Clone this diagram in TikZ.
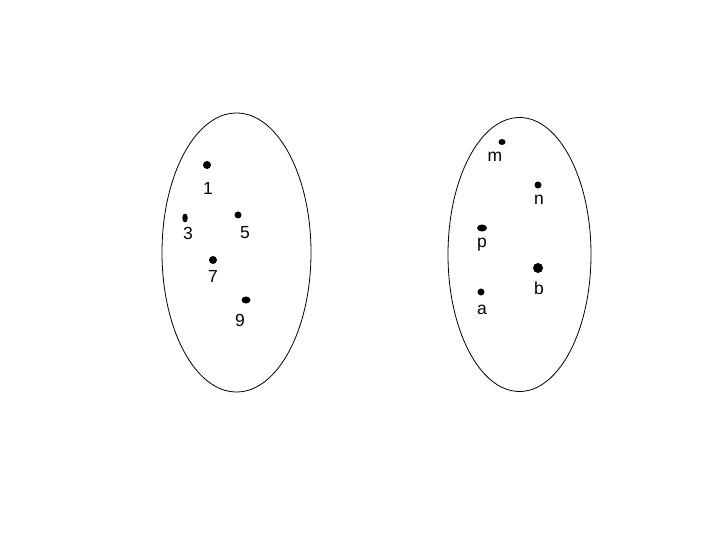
\documentclass[tikz,border=0pt]{standalone}
\usepackage{fontspec}
\setmainfont{Liberation Sans}
\usetikzlibrary{shapes.geometric}

\begin{document}
\begin{tikzpicture}[x=1pt, y=-1pt, every node/.style={font=\fontsize{17.5}{21}\selectfont},
	dot/.style={ellipse, fill=black, inner sep=0pt, minimum width=8pt, minimum height=8pt}]
	\useasboundingbox (0,0) rectangle (720,540);
	% left set
	\draw[line width=0.8pt] (236.5,252.5) ellipse (74.5 and 139.5);
	\node[dot] (d1) at (207,165) {};
	\node[dot, minimum width=5.5pt, minimum height=9pt] (d3) at (185,218) {};
	\node[dot, minimum width=7pt, minimum height=7pt] (d5) at (238,215) {};
	\node[dot] (d7) at (213,260) {};
	\node[dot, minimum width=9pt, minimum height=7pt] (d9) at (246,300) {};
	\node (l1) at (208,188) {1};
	\node (l3) at (188,233) {3};
	\node (l5) at (245,233) {5};
	\node (l7) at (213,276) {7};
	\node (l9) at (240,320) {9};
	% right set
	\draw[line width=0.8pt] (519.5,254.5) ellipse (71.5 and 137);
	\node[dot, minimum width=7pt, minimum height=6pt] (dm) at (502,142) {};
	\node[dot, minimum width=7pt, minimum height=7pt] (dn) at (538,185) {};
	\node[dot, minimum width=10pt, minimum height=7pt] (dp) at (482,228) {};
	\node[dot, minimum width=10pt, minimum height=10pt] (db) at (538,268) {};
	\node[dot, minimum width=7pt, minimum height=7pt] (da) at (481,292) {};
	\node (lm) at (495,157) {m};
	\node (ln) at (539,200) {n};
	\node (lp) at (482,245) {p};
	\node (lb) at (539,288) {b};
	\node (la) at (482,310) {a};
\end{tikzpicture}
\end{document}
